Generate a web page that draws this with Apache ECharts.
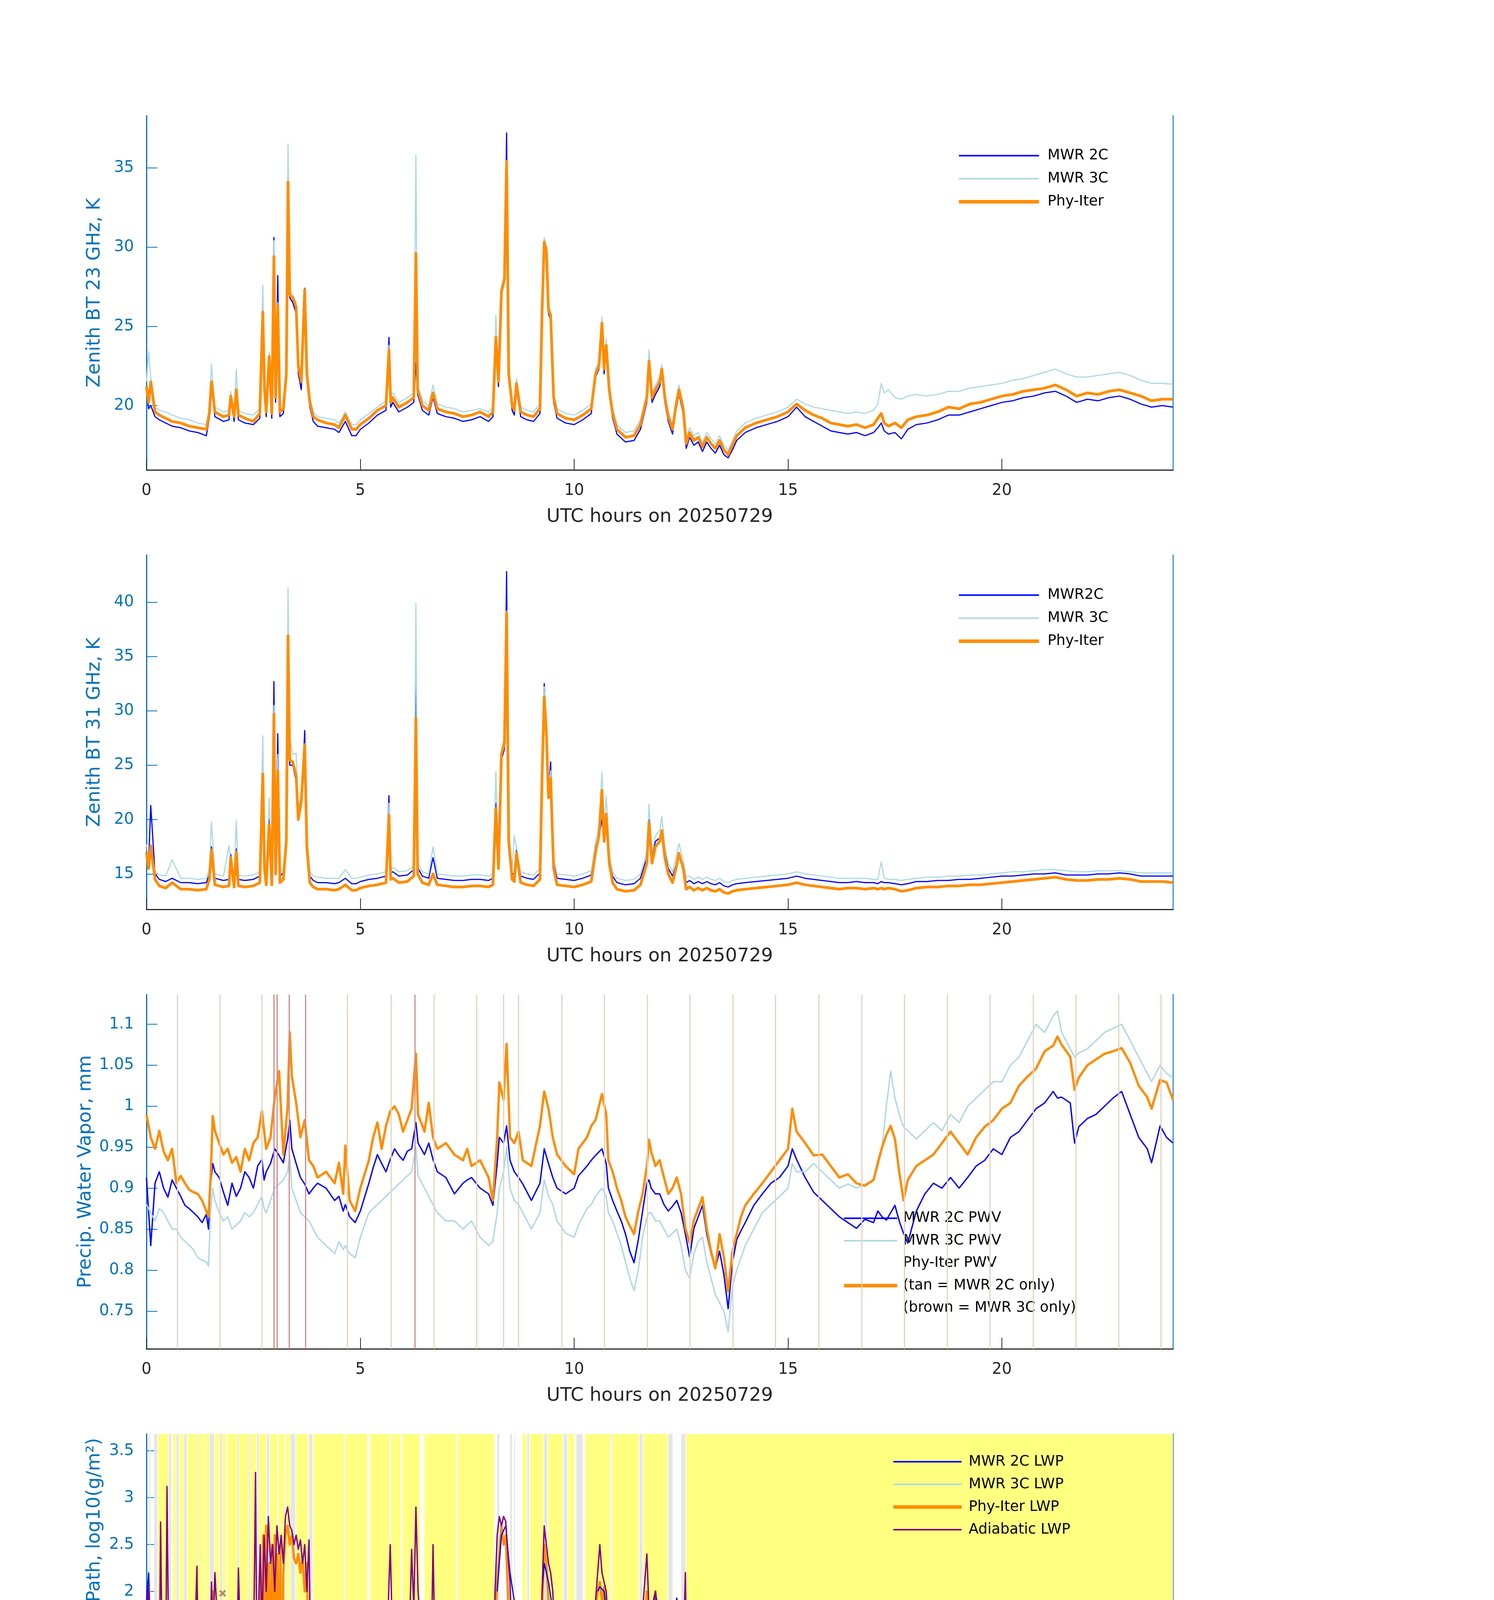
<!DOCTYPE html>
<html><head><meta charset="utf-8">
<script src="https://cdn.jsdelivr.net/npm/echarts@6/dist/echarts.min.js"></script>
<style>html,body{margin:0;padding:0;background:#fff}#c{width:3825px;height:6000px}</style>
</head><body><div id="c"></div>
<script>
// ---------------- DATA ----------------
const hoursBT = [
 0,0.05,0.1,0.2,0.3,0.45,0.6,0.8,1.0,1.2,
 1.4,1.47,1.52,1.6,1.8,1.93,1.97,2.05,2.1,2.15,
 2.3,2.5,2.65,2.72,2.76,2.8,2.87,2.93,2.98,3.02,
 3.07,3.12,3.2,3.27,3.31,3.35,3.42,3.5,3.55,3.62,
 3.7,3.75,3.82,3.9,4.0,4.2,4.4,4.5,4.65,4.8,
 4.9,5.0,5.2,5.4,5.6,5.67,5.71,5.76,5.9,6.1,
 6.25,6.3,6.34,6.45,6.6,6.7,6.8,7.0,7.2,7.4,
 7.6,7.8,8.0,8.1,8.17,8.23,8.3,8.37,8.42,8.47,
 8.55,8.6,8.65,8.75,8.9,9.05,9.2,9.25,9.3,9.35,
 9.4,9.45,9.52,9.6,9.8,10.0,10.2,10.4,10.5,10.58,
 10.65,10.7,10.75,10.82,10.9,11.0,11.2,11.4,11.55,11.7,
 11.75,11.82,11.9,12.0,12.05,12.12,12.2,12.3,12.38,12.45,
 12.55,12.62,12.7,12.8,12.9,13.0,13.1,13.2,13.3,13.4,
 13.5,13.6,13.7,13.8,14.0,14.25,14.5,14.75,15.0,15.2,
 15.4,15.6,15.8,16.0,16.2,16.4,16.6,16.8,17.0,17.1,
 17.18,17.25,17.35,17.5,17.65,17.8,18.0,18.25,18.5,18.75,
 19.0,19.25,19.5,19.75,20.0,20.25,20.5,20.75,21.0,21.25,
 21.5,21.75,22.0,22.25,22.5,22.75,23.0,23.25,23.5,23.75,
 24.0];
const bt23_2C = [
 21.0,19.8,20.0,19.3,19.1,18.9,18.7,18.6,18.4,18.3,
 18.1,19.2,21.2,19.3,19.0,19.1,20.4,19.0,20.8,19.1,
 18.9,18.8,19.2,25.5,20.8,19.3,22.5,19.2,30.6,20.2,
 28.2,19.3,19.5,21.8,28.8,26.8,26.5,25.8,22.0,21.0,
 27.4,21.6,19.9,19.0,18.7,18.6,18.5,18.3,19.0,18.1,
 18.1,18.5,18.9,19.4,19.7,24.3,19.9,20.2,19.6,19.9,
 20.2,22.7,20.7,19.7,19.4,20.5,19.5,19.3,19.2,19.0,
 19.1,19.3,19.0,19.3,24.0,21.2,27.0,27.8,37.2,21.7,
 19.7,19.4,21.0,19.3,19.1,19.0,19.5,25.8,30.5,29.6,
 25.8,25.4,20.2,19.2,18.9,18.8,19.1,19.5,21.8,22.3,
 24.9,22.0,23.5,20.7,19.2,18.2,17.7,17.8,18.5,20.2,
 22.5,20.2,20.7,21.2,22.0,20.2,19.0,18.2,19.7,20.7,
 19.5,17.3,18.0,17.5,17.7,17.1,17.7,17.3,17.0,17.5,
 16.9,16.7,17.2,17.8,18.3,18.6,18.8,19.0,19.3,19.9,
 19.3,19.0,18.7,18.4,18.3,18.2,18.3,18.1,18.3,18.6,
 18.9,18.4,18.2,18.3,17.9,18.5,18.8,18.9,19.1,19.4,
 19.4,19.6,19.8,20.0,20.2,20.3,20.5,20.6,20.8,20.9,
 20.6,20.2,20.4,20.3,20.5,20.6,20.4,20.1,19.9,20.0,
 19.9];
const bt23_3C = [
 21.5,23.4,21.8,19.9,19.7,19.6,19.4,19.2,19.1,18.9,
 18.8,19.8,22.6,19.9,19.6,19.7,20.9,19.6,22.3,19.7,
 19.5,19.4,19.8,27.6,21.3,19.9,23.4,19.8,30.4,20.8,
 26.5,19.9,20.1,22.3,36.5,27.3,27.0,26.5,22.8,21.8,
 27.0,22.3,20.5,19.6,19.3,19.2,19.1,18.9,19.6,18.8,
 18.8,19.1,19.5,19.9,20.3,23.8,20.5,20.8,20.2,20.5,
 20.8,35.8,21.3,20.3,20.0,21.3,20.1,19.9,19.8,19.6,
 19.7,19.8,19.6,19.9,25.7,21.8,27.5,28.2,35.0,22.3,
 20.3,20.0,21.7,19.9,19.7,19.6,20.1,26.3,30.6,30.0,
 26.2,26.0,20.8,19.8,19.5,19.4,19.7,20.1,22.3,22.8,
 25.6,22.6,24.2,21.3,19.8,18.8,18.3,18.4,19.1,20.8,
 23.5,20.8,21.3,21.8,22.6,20.8,19.6,18.8,20.3,21.3,
 20.1,17.9,18.6,18.1,18.3,17.7,18.3,17.9,17.6,18.1,
 17.5,17.2,17.8,18.4,18.9,19.2,19.4,19.6,19.9,20.4,
 20.1,19.9,19.8,19.7,19.6,19.5,19.6,19.5,19.7,20.1,
 21.4,20.8,21.0,20.5,20.4,20.6,20.7,20.6,20.7,20.9,
 20.9,21.1,21.2,21.3,21.4,21.6,21.7,21.9,22.1,22.3,
 22.0,21.8,21.8,21.9,22.0,22.1,21.9,21.6,21.4,21.4,
 21.35];
const bt23_phy = [
 21.2,20.2,21.5,19.6,19.4,19.2,19.0,18.9,18.7,18.6,
 18.5,19.5,21.5,19.6,19.3,19.4,20.6,19.3,21.0,19.4,
 19.2,19.0,19.5,25.9,21.0,19.6,23.1,19.5,29.4,20.5,
 26.3,19.6,19.8,22.0,34.1,27.0,26.8,26.2,22.5,21.5,
 27.3,22.0,20.2,19.3,19.1,18.9,18.8,18.6,19.4,18.5,
 18.5,18.8,19.2,19.7,20.0,23.5,20.2,20.5,19.9,20.2,
 20.5,29.6,21.0,20.0,19.7,20.8,19.8,19.6,19.5,19.3,
 19.4,19.6,19.3,19.6,24.3,21.5,27.2,28.0,35.4,22.0,
 20.0,19.7,21.4,19.6,19.4,19.3,19.8,26.0,30.3,29.8,
 26.0,25.7,20.5,19.5,19.2,19.1,19.4,19.8,22.0,22.5,
 25.2,22.3,23.8,21.0,19.5,18.5,18.0,18.1,18.8,20.5,
 22.8,20.5,21.0,21.5,22.3,20.5,19.3,18.5,20.0,21.0,
 19.8,17.6,18.3,17.8,18.0,17.4,18.0,17.6,17.3,17.8,
 17.2,16.9,17.5,18.1,18.6,18.9,19.1,19.3,19.6,20.1,
 19.7,19.4,19.2,18.9,18.8,18.7,18.8,18.6,18.8,19.2,
 19.5,18.9,18.7,18.9,18.6,19.1,19.3,19.4,19.6,19.9,
 19.8,20.1,20.2,20.4,20.6,20.7,20.9,21.0,21.1,21.3,
 21.0,20.6,20.8,20.7,20.9,21.0,20.8,20.6,20.3,20.4,
 20.4];
const bt31_2C = [
 17.5,16.0,21.3,15.0,14.5,14.3,14.6,14.2,14.2,14.1,
 14.2,15.0,17.5,14.6,14.4,14.5,16.8,14.4,17.3,14.5,
 14.4,14.5,14.8,24.0,16.0,14.6,20.0,14.6,32.7,15.6,
 27.9,14.8,15.1,18.5,29.9,25.0,25.0,23.5,20.5,21.2,
 28.2,17.8,14.8,14.4,14.2,14.2,14.1,14.2,14.6,14.1,
 14.1,14.3,14.5,14.6,14.8,22.2,15.1,15.2,14.8,14.9,
 15.4,32.7,15.6,14.8,14.6,16.5,14.6,14.5,14.4,14.4,
 14.5,14.5,14.4,14.6,21.5,16.0,25.5,26.5,42.8,18.5,
 15.1,14.9,17.2,14.8,14.6,14.5,15.1,24.5,32.5,28.5,
 22.5,25.3,16.0,14.6,14.5,14.4,14.6,14.9,17.5,18.5,
 20.0,18.0,19.5,16.3,14.8,14.2,14.0,14.1,14.6,16.5,
 20.0,16.5,18.0,18.3,19.0,17.0,15.5,14.8,15.8,16.8,
 15.8,14.2,14.4,14.1,14.3,14.1,14.3,14.1,14.0,14.2,
 13.9,13.8,14.0,14.1,14.2,14.3,14.4,14.5,14.6,14.8,
 14.6,14.5,14.4,14.3,14.2,14.2,14.3,14.2,14.2,14.1,
 14.3,14.2,14.2,14.1,14.0,14.1,14.3,14.3,14.4,14.4,
 14.5,14.5,14.6,14.7,14.8,14.8,14.9,15.0,15.0,15.1,
 14.9,14.9,14.9,15.0,15.0,15.1,15.0,14.8,14.8,14.8,
 14.8];
const bt31_3C = [
 17.7,16.2,17.5,15.3,14.9,14.8,16.3,14.6,14.6,14.5,
 14.6,15.5,19.8,15.0,14.8,17.6,16.0,14.8,19.9,14.9,
 14.8,14.9,15.2,27.7,16.3,15.0,22.0,15.0,30.5,16.0,
 26.0,15.2,15.5,19.0,41.3,27.5,26.0,26.1,21.0,22.3,
 26.5,18.3,15.2,14.8,14.7,14.6,14.6,14.6,15.4,14.6,
 14.6,14.7,14.9,15.0,15.2,21.5,15.5,15.6,15.2,15.3,
 15.7,39.9,16.0,15.2,15.0,17.5,15.0,14.9,14.8,14.8,
 14.9,14.9,14.8,15.0,24.4,16.4,26.5,27.5,39.2,19.0,
 15.5,18.5,17.5,15.2,15.0,14.9,15.5,25.0,32.2,29.0,
 23.0,24.5,16.5,15.0,14.9,14.8,15.0,15.3,18.0,19.5,
 24.4,18.8,22.2,16.8,15.2,14.6,14.4,14.5,15.0,17.0,
 21.4,17.0,18.5,19.0,20.3,17.5,16.0,15.2,16.5,17.8,
 16.3,14.7,14.8,14.5,14.7,14.5,14.7,14.5,14.4,14.6,
 14.3,14.2,14.4,14.5,14.6,14.7,14.8,14.9,15.0,15.2,
 15.0,14.9,14.8,14.7,14.6,14.6,14.6,14.6,14.5,14.5,
 16.1,14.6,14.5,14.5,14.4,14.5,14.6,14.7,14.7,14.8,
 14.8,14.9,14.9,15.0,15.1,15.2,15.2,15.3,15.4,15.4,
 15.3,15.2,15.2,15.3,15.3,15.3,15.2,15.1,15.1,15.1,
 15.1];
const bt31_phy = [
 17.0,15.5,17.6,14.5,13.9,13.7,14.2,13.6,13.6,13.5,
 13.6,14.5,17.2,14.0,13.8,13.9,16.5,13.8,17.0,13.9,
 13.8,13.9,14.2,24.2,15.5,14.0,19.5,14.0,29.7,15.0,
 24.5,14.2,14.5,18.0,36.9,25.5,25.3,24.0,20.0,21.7,
 26.9,17.5,14.2,13.8,13.6,13.6,13.5,13.6,14.0,13.5,
 13.5,13.7,13.9,14.0,14.2,20.4,14.5,14.6,14.2,14.3,
 14.8,29.3,15.0,14.2,14.0,15.0,14.0,13.9,13.8,13.8,
 13.9,13.9,13.8,14.0,21.0,15.5,26.0,27.0,39.0,18.0,
 14.5,14.3,16.9,14.2,14.0,13.9,14.5,24.0,31.3,28.0,
 22.0,23.8,15.5,14.0,13.9,13.8,14.0,14.3,17.0,18.5,
 22.7,18.0,20.5,16.0,14.2,13.6,13.4,13.5,14.0,16.0,
 19.7,16.0,17.5,18.0,19.0,16.5,15.0,14.2,15.5,16.9,
 15.5,13.6,13.8,13.5,13.7,13.5,13.7,13.5,13.4,13.6,
 13.3,13.2,13.4,13.5,13.6,13.7,13.8,13.9,14.0,14.2,
 14.0,13.9,13.8,13.7,13.6,13.7,13.7,13.6,13.7,13.6,
 13.7,13.6,13.7,13.6,13.4,13.5,13.7,13.8,13.8,13.9,
 13.9,14.0,14.0,14.1,14.2,14.3,14.4,14.5,14.6,14.7,
 14.5,14.4,14.4,14.5,14.5,14.6,14.5,14.3,14.3,14.3,
 14.2];
const hoursPWV = [
 0,0.1,0.2,0.3,0.4,0.5,0.6,0.7,0.8,0.9,
 1.0,1.1,1.2,1.3,1.4,1.45,1.5,1.55,1.6,1.7,
 1.8,1.9,2.0,2.1,2.2,2.3,2.4,2.5,2.6,2.7,
 2.75,2.8,2.9,3.0,3.1,3.2,3.3,3.35,3.4,3.5,
 3.6,3.7,3.8,3.9,4.0,4.2,4.4,4.5,4.6,4.65,
 4.75,4.88,5.0,5.2,5.3,5.4,5.5,5.6,5.7,5.8,
 5.9,6.0,6.1,6.2,6.3,6.35,6.5,6.6,6.7,6.8,
 7.0,7.2,7.4,7.5,7.6,7.8,8.0,8.1,8.2,8.25,
 8.35,8.42,8.5,8.6,8.7,8.8,9.0,9.2,9.3,9.4,
 9.5,9.6,9.8,10.0,10.1,10.3,10.4,10.5,10.65,10.75,
 10.8,10.9,11.0,11.1,11.2,11.3,11.4,11.5,11.6,11.7,
 11.75,11.8,11.9,12.0,12.1,12.2,12.3,12.4,12.5,12.6,
 12.7,12.8,12.9,13.0,13.1,13.2,13.3,13.4,13.5,13.6,
 13.7,13.8,13.9,14.0,14.2,14.4,14.6,14.8,15.0,15.1,
 15.2,15.4,15.6,15.8,16.0,16.2,16.4,16.6,16.8,17.0,
 17.1,17.2,17.3,17.4,17.5,17.6,17.7,17.8,18.0,18.2,
 18.4,18.6,18.8,19.0,19.2,19.4,19.6,19.8,20.0,20.2,
 20.4,20.6,20.8,21.0,21.2,21.3,21.4,21.6,21.7,21.8,
 22.0,22.2,22.4,22.6,22.8,23.0,23.2,23.4,23.5,23.7,
 23.85,24.0];
const pwv_2C = [
 0.913,0.83,0.906,0.92,0.9,0.889,0.91,0.9,0.89,0.879,
 0.875,0.87,0.865,0.858,0.868,0.85,0.906,0.93,0.92,0.913,
 0.895,0.879,0.906,0.89,0.9,0.92,0.913,0.9,0.927,0.935,
 0.91,0.92,0.93,0.948,0.94,0.931,0.96,0.983,0.948,0.93,
 0.913,0.905,0.893,0.9,0.906,0.9,0.885,0.89,0.872,0.88,
 0.865,0.858,0.872,0.906,0.925,0.941,0.93,0.92,0.935,0.948,
 0.94,0.934,0.945,0.948,0.98,0.955,0.941,0.955,0.935,0.92,
 0.913,0.893,0.906,0.91,0.913,0.9,0.893,0.879,0.93,0.962,
 0.955,0.976,0.934,0.92,0.913,0.905,0.885,0.906,0.948,0.93,
 0.913,0.9,0.893,0.9,0.915,0.927,0.934,0.94,0.948,0.93,
 0.9,0.885,0.872,0.86,0.844,0.823,0.809,0.837,0.872,0.906,
 0.91,0.9,0.893,0.893,0.88,0.872,0.878,0.885,0.87,0.844,
 0.816,0.851,0.865,0.879,0.844,0.82,0.802,0.823,0.795,0.753,
 0.809,0.837,0.848,0.858,0.879,0.893,0.906,0.913,0.927,0.948,
 0.935,0.913,0.895,0.885,0.875,0.865,0.858,0.851,0.862,0.858,
 0.872,0.865,0.861,0.87,0.879,0.86,0.845,0.833,0.872,0.893,
 0.906,0.9,0.913,0.9,0.913,0.927,0.934,0.948,0.941,0.962,
 0.969,0.983,0.997,1.004,1.018,1.01,1.011,1.004,0.955,0.975,
 0.985,0.99,1.0,1.01,1.018,0.99,0.962,0.948,0.931,0.976,
 0.962,0.955];
const pwv_3C = [
 0.88,0.87,0.86,0.875,0.87,0.86,0.85,0.85,0.84,0.835,
 0.83,0.825,0.815,0.812,0.81,0.805,0.87,0.9,0.885,0.87,
 0.86,0.865,0.85,0.855,0.86,0.87,0.865,0.87,0.88,0.89,
 0.875,0.87,0.885,0.9,0.905,0.91,0.92,0.94,0.9,0.885,
 0.87,0.865,0.86,0.85,0.84,0.83,0.82,0.835,0.825,0.83,
 0.82,0.815,0.84,0.87,0.875,0.88,0.885,0.89,0.895,0.9,
 0.905,0.91,0.915,0.92,0.95,0.915,0.9,0.89,0.88,0.87,
 0.86,0.86,0.85,0.855,0.86,0.84,0.83,0.835,0.87,0.9,
 0.92,0.95,0.9,0.885,0.88,0.87,0.85,0.87,0.91,0.89,
 0.88,0.86,0.845,0.84,0.855,0.875,0.88,0.89,0.9,0.89,
 0.87,0.86,0.845,0.83,0.81,0.79,0.775,0.8,0.84,0.865,
 0.87,0.87,0.86,0.86,0.85,0.84,0.845,0.85,0.83,0.8,
 0.79,0.82,0.835,0.84,0.81,0.79,0.77,0.76,0.75,0.725,
 0.78,0.8,0.815,0.83,0.85,0.87,0.88,0.89,0.9,0.93,
 0.92,0.92,0.93,0.92,0.91,0.9,0.905,0.9,0.905,0.91,
 0.925,0.95,1.0,1.043,1.01,0.99,0.975,0.97,0.96,0.97,
 0.98,0.97,0.99,0.98,1.0,1.01,1.02,1.03,1.03,1.05,
 1.06,1.08,1.1,1.09,1.11,1.116,1.09,1.07,1.06,1.065,
 1.07,1.08,1.09,1.095,1.1,1.08,1.06,1.04,1.03,1.05,
 1.04,1.035];
const pwv_phy = [
 0.99,0.962,0.948,0.97,0.945,0.934,0.948,0.906,0.915,0.906,
 0.898,0.895,0.893,0.885,0.872,0.865,0.913,0.988,0.97,0.955,
 0.941,0.948,0.931,0.938,0.92,0.948,0.934,0.955,0.962,0.994,
 0.97,0.948,0.962,1.011,1.043,0.941,1.0,1.09,1.036,1.004,
 0.962,0.983,0.934,0.927,0.913,0.92,0.906,0.931,0.893,0.952,
 0.885,0.872,0.9,0.934,0.962,0.98,0.948,0.976,0.994,1.0,
 0.99,0.969,0.983,0.997,1.064,0.99,0.969,1.004,0.962,0.948,
 0.955,0.941,0.934,0.948,0.927,0.934,0.913,0.885,0.962,1.029,
 1.008,1.076,0.962,0.955,0.969,0.934,0.927,0.976,1.018,0.997,
 0.962,0.941,0.927,0.917,0.948,0.962,0.976,0.983,1.015,0.99,
 0.934,0.92,0.9,0.885,0.865,0.854,0.844,0.872,0.893,0.927,
 0.959,0.945,0.927,0.934,0.913,0.893,0.9,0.913,0.893,0.851,
 0.833,0.861,0.875,0.889,0.851,0.823,0.802,0.844,0.816,0.774,
 0.823,0.844,0.865,0.879,0.893,0.906,0.92,0.934,0.948,0.997,
 0.969,0.955,0.94,0.941,0.927,0.913,0.917,0.906,0.903,0.91,
 0.931,0.95,0.965,0.976,0.96,0.92,0.885,0.91,0.927,0.934,
 0.941,0.955,0.969,0.955,0.941,0.962,0.975,0.983,0.997,1.004,
 1.025,1.036,1.046,1.067,1.074,1.085,1.075,1.06,1.02,1.035,
 1.05,1.057,1.064,1.067,1.071,1.053,1.025,1.011,0.997,1.032,
 1.029,1.008];
const tanHours = [0.72,1.72,2.7,4.7,5.72,6.72,7.72,8.35,8.7,9.71,10.71,11.71,12.71,13.71,14.71,15.72,16.72,17.72,18.72,19.72,20.73,21.73,22.73,23.72];
const brownHours = [2.98,3.05,3.34,3.72,6.28];

const clearSpans = [[0.27,0.51],[0.62,0.69],[0.78,0.87],[0.96,1.16],[1.2,1.34],[1.36,1.47],[1.6,1.71],[1.78,1.85],[1.89,2.11],[2.16,2.38],[2.43,2.56],[2.63,2.8],[2.89,3.05],[3.09,3.23],[3.27,3.36],[3.5,3.78],[3.9,4.61],[4.65,5.16],[5.23,5.68],[5.72,5.94],[5.99,6.39],[6.5,7.24],[7.28,8.13],[8.79,8.88],[8.97,9.28],[9.39,9.73],[9.86,10.0],[10.26,10.84],[10.89,11.51],[11.62,12.18],[12.62,24]];
const missingSpans = [[0.07,0.09],[0.18,0.25],[0.52,0.58],[0.7,0.76],[0.88,0.94],[1.17,1.19],[1.48,1.58],[1.72,1.77],[2.12,2.15],[2.39,2.42],[2.58,2.62],[2.82,2.87],[3.37,3.48],[3.8,3.88],[8.2,8.25],[8.5,8.55],[8.6,8.62],[8.9,8.95],[9.3,9.37],[9.75,9.84],[10.05,10.2],[10.86,10.88],[11.53,11.6],[12.2,12.3],[12.5,12.6]];
const hoursLWPc = [0,0.5,1,1.5,2,2.5,3,3.5,4,4.5,5,5.5,6,6.5,7,7.5,8,8.5,9,9.5,10,10.5,11,11.5,12,12.5,13,13.5,14,14.5,15,15.5,16,16.5,17,17.5,18,18.5,19,19.5,20,20.5,21,21.5,22,22.5,23,23.5,24];
const lwp2C_clear = [1.38,1.38,1.4,1.38,1.4,1.4,1.42,1.4,1.33,1.36,1.38,1.4,1.42,1.42,1.44,1.45,1.45,1.45,1.46,1.45,1.48,1.47,1.38,1.36,1.4,1.42,1.45,1.45,1.44,1.45,1.45,1.42,1.4,1.38,1.36,1.33,1.34,1.38,1.38,1.39,1.39,1.4,1.42,1.41,1.38,1.36,1.35,1.34,1.36];
const hoursLWP3C = [0,1,2,3,4,5,6,7,8,9,10,11,11.5,12,12.5,13,13.5,14,14.5,15,15.5,15.8,16.0,16.3,16.6,16.9,17.1,17.2,17.25,17.3,17.9,18.2,18.6,19.0,19.4,19.8,20.2,20.6,21.0,21.4,21.8,22.2,22.6,23.0,23.4,23.8,24];
const lwp3C_low = [1.17,1.17,1.15,1.17,1.12,1.12,1.15,1.18,1.17,1.18, 1.17,1.12,1.05,1.09,1.12,1.07,1.02,0.97,1.01,1.12, 1.17,1.08,0.85,0,0,0,0,0.2,0,0, 0,0,0,0,0,0,0.05,0.15,0.2,0.25, 0.3,0.3,0.35,0.35,0.4,0.45,0.45];
const lwp3C_high = [1.23,1.23,1.22,1.24,1.19,1.19,1.22,1.25,1.24,1.25, 1.24,1.19,1.12,1.16,1.19,1.14,1.09,1.04,1.08,1.19, 1.24,1.15,0.95,0.6,0.65,0.7,0.55,1.08,0.05,0, 0,0.45,0.5,0.5,0.55,0.6,0.65,0.85,0.85,0.8, 0.85,0.85,0.9,0.85,0.85,0.8,0.65];
const lwpPhy = [
 [0,1.85],[0.05,1.6],[0.1,1.2],[0.15,0.6],[0.2,-0.3],null,
 [0.5,-0.3],[0.55,0.3],[0.58,-0.3],null,
 [1.45,-0.3],[1.5,1.9],[1.53,0.3],[1.56,2.0],[1.6,-0.3],[1.63,1.5],[1.66,-0.3],[1.7,1.0],[1.73,-0.3],[1.76,1.7],[1.8,0.2],[1.85,-0.3],null,
 [1.95,-0.3],[1.98,1.3],[2.02,-0.3],[2.06,1.4],[2.1,0.2],[2.15,-0.3],null,
 [2.35,-0.3],[2.4,0.8],[2.45,-0.3],null,
 [2.62,-0.3],[2.66,2.2],[2.7,0.5],[2.73,2.6],[2.76,1.0],[2.8,2.7],[2.83,0.3],[2.86,2.3],[2.9,0.6],[2.93,2.5],[2.96,1.2],[3.0,2.6],[3.03,0.5],[3.06,2.4],[3.1,1.0],[3.13,2.5],[3.16,0.2],[3.2,2.2],[3.25,2.6],[3.3,2.7],[3.35,2.5],[3.4,2.6],[3.45,2.35],[3.5,2.3],[3.55,2.4],[3.6,2.2],[3.65,2.35],[3.7,2.0],[3.75,2.3],[3.8,1.0],[3.85,-0.3],null,
 [5.6,-0.3],[5.65,1.0],[5.7,0.3],[5.75,-0.3],null,
 [6.05,-0.3],[6.1,0.8],[6.15,-0.3],[6.2,1.6],[6.25,0.2],[6.3,1.9],[6.35,0.5],[6.4,1.8],[6.45,-0.3],[6.5,1.2],[6.55,0.3],[6.6,1.6],[6.65,-0.3],[6.7,0.8],[6.75,-0.3],null,
 [8.1,0.4],[8.15,1.6],[8.2,2.1],[8.25,2.4],[8.3,2.7],[8.35,2.5],[8.4,2.6],[8.45,2.0],[8.5,1.2],[8.55,0.4],[8.6,1.6],[8.65,1.4],[8.7,0.6],[8.75,0.3],[8.8,-0.3],null,
 [9.2,-0.3],[9.25,1.8],[9.3,2.5],[9.35,2.3],[9.4,1.9],[9.45,1.5],[9.5,1.0],[9.55,0.5],[9.6,-0.3],[9.7,0.3],[9.75,-0.3],null,
 [10.4,-0.3],[10.45,1.4],[10.5,1.8],[10.55,2.0],[10.6,2.1],[10.65,1.9],[10.7,2.05],[10.75,1.6],[10.8,0.8],[10.85,-0.3],null,
 [11.5,-0.3],[11.55,0.4],[11.6,1.5],[11.65,1.7],[11.7,2.0],[11.75,1.6],[11.8,1.8],[11.85,1.2],[11.9,2.0],[11.95,1.5],[12.0,1.2],[12.05,0.8],[12.1,0.5],[12.15,1.2],[12.2,1.6],[12.25,1.3],[12.3,1.8],[12.35,1.5],[12.4,1.75],[12.45,1.4],[12.5,0.8],[12.55,1.2],[12.6,0.6],[12.65,-0.3]];
const lwp2C_cloud = [
 [0,1.9],[0.05,2.2],[0.1,1.5],[0.2,1.4],null,
 [8.2,2.0],[8.3,2.6],[8.4,2.7],[8.5,2.2],[8.6,1.9],[8.7,1.5],null,
 [9.25,2.0],[9.3,2.3],[9.4,2.1],[9.5,1.8],null,
 [10.55,2.0],[10.6,2.05],[10.7,2.0],[10.8,1.6],null,
 [11.6,1.6],[11.7,1.9],[11.8,1.7],[11.9,2.0],[12.0,1.7],[12.1,1.2],[12.2,1.5],[12.3,1.7],[12.4,1.93],[12.5,1.5],[12.6,1.8],[12.65,1.4]];
const lwpAdiabatic = [
 [0.0,1.7],[0.05,2.05],[0.12,1.3],[0.2,1.1],[0.3,1.0],[0.33,2.74],[0.37,1.2],[0.45,1.1],[0.48,3.12],[0.52,1.3],[0.6,1.0],[0.7,1.5],[0.8,1.2],[0.9,1.0],[1.0,1.05],[1.1,1.0],[1.18,2.27],[1.22,1.0],[1.3,0.9],null,
 [1.48,1.0],[1.52,2.1],[1.56,1.6],[1.6,2.2],[1.65,1.75],[1.7,1.2],[1.75,1.4],[1.8,1.0],[1.9,1.0],[1.95,1.3],[2.0,1.5],[2.05,1.2],[2.1,1.0],[2.15,2.25],[2.2,1.4],[2.3,1.1],[2.4,1.5],[2.5,1.2],[2.55,3.27],[2.58,1.3],[2.62,1.8],[2.66,2.5],[2.7,1.6],[2.75,2.6],[2.8,2.0],[2.85,2.8],[2.9,2.3],[2.95,2.5],[3.0,2.0],[3.05,2.7],[3.1,2.4],[3.15,2.6],[3.2,2.3],[3.25,2.8],[3.3,2.9],[3.35,2.7],[3.4,2.65],[3.45,2.5],[3.5,2.6],[3.55,2.45],[3.6,2.55],[3.65,2.3],[3.7,2.5],[3.75,2.0],[3.8,2.55],[3.85,0.9],null,
 [5.6,1.0],[5.65,1.8],[5.7,2.5],[5.75,1.5],[5.8,1.0],null,
 [6.1,1.0],[6.15,1.6],[6.2,2.45],[6.25,1.8],[6.3,2.9],[6.35,2.0],[6.4,1.7],[6.45,1.2],[6.5,1.4],[6.55,1.0],[6.6,1.3],[6.65,1.0],[6.7,2.5],[6.75,1.2],[6.8,0.9],null,
 [8.1,1.0],[8.15,2.0],[8.2,2.6],[8.25,2.8],[8.3,2.7],[8.35,2.8],[8.4,2.75],[8.45,2.4],[8.5,2.1],[8.55,1.2],[8.6,1.5],[8.65,1.9],[8.7,1.3],[8.75,1.0],[8.8,0.8],null,
 [9.2,1.0],[9.25,2.0],[9.3,2.7],[9.35,2.5],[9.4,2.3],[9.45,2.2],[9.5,2.0],[9.55,1.5],[9.6,1.0],[9.7,0.9],null,
 [10.4,1.0],[10.45,1.6],[10.5,1.9],[10.55,2.2],[10.6,2.5],[10.65,2.2],[10.7,2.1],[10.75,2.0],[10.8,1.6],[10.85,1.0],[10.9,0.9],null,
 [11.5,0.8],[11.55,1.2],[11.6,1.8],[11.65,2.1],[11.7,2.4],[11.75,1.8],[11.8,1.5],[11.85,1.9],[11.9,2.0],[11.95,1.7],[12.0,1.8],[12.05,1.3],[12.1,1.0],[12.15,0.9],[12.2,1.5],[12.25,1.7],[12.3,1.2],[12.35,1.6],[12.4,1.6],[12.45,1.2],[12.5,1.1],[12.55,1.3],[12.6,2.2],[12.65,0.5]];
const xMarksBrown = [[0.78,1.82],[0.96,1.05],[1.05,1.05],[1.78,1.98],[2.27,1.86],[5.28,1.1],[5.45,1.12],[5.79,1.11],[5.94,1.1],[6.39,1.2],[6.52,1.11],[8.01,1.06],[8.06,1.09],[10.17,1.04]];
const xMarksGold = [[1.09,0.45],[1.2,0.05],[2.27,0.21],[5.83,0.34],[5.94,0.05],[6.5,0.24],[8.01,0.43],[8.06,0.28]];

const flag0Runs = [[0,0.2],[0.6,0.6],[0.93,0.93],[1.27,1.27],[1.45,1.76],[1.87,2.2],[2.6,3.9],[4.65,4.65],[5.68,5.83],[6.05,6.4],[6.45,6.83],[8.13,8.84],[9.22,9.73],[10.4,10.89],[11.62,12.62]];
const flag3Runs = [[0.27,0.27],[0.49,0.49],[0.6,0.6],[0.7,0.76],[1.16,1.16],[1.71,1.8],[1.95,2.1],[2.32,2.32],[2.6,2.6],[3.05,3.05],[3.23,3.23],[3.83,3.83],[5.61,5.68],[5.94,6.1],[6.61,6.61],[6.72,6.72],[8.01,8.01],[9.13,9.13],[9.68,9.68],[10.35,10.35],[10.91,10.91],[11.58,11.58],[12.62,12.62]];
const flag4Runs = [[0.04,0.08],[0.2,0.27],[0.56,0.56],[0.89,0.95],[1.02,1.1],[1.16,1.2],[1.6,1.6],[1.87,1.87],[1.98,2.0],[2.1,2.23],[2.49,2.49],[2.6,2.6],[3.12,3.12],[3.6,3.6],[3.87,3.87],[4.65,4.65],[5.28,5.28],[5.45,5.45],[5.83,5.83],[5.99,5.99],[6.57,6.57],[6.68,6.68],[7.21,7.21],[8.06,8.06],[8.62,8.62],[8.8,8.84],[8.93,8.97],[9.08,9.08],[9.22,9.22],[9.66,9.66],[10.17,10.3],[10.89,10.89],[11.62,11.62],[12.22,12.22],[12.58,12.58]];
const flag5Runs = [[0.27,0.49],[0.67,1.16],[1.27,1.45],[1.76,1.76],[2.27,2.56],[2.83,2.83],[3.16,3.16],[3.87,5.61],[5.72,6.1],[6.32,6.57],[6.79,7.17],[7.24,8.13],[8.88,9.17],[9.68,10.28],[10.91,11.55],[12.62,24]];
const flag6Runs = [[5.68,5.68],[8.42,8.42]];

const ticksBT23 = [20,25,30,35];
const ticksBT31 = [15,20,25,30,35,40];
const ticksPWV = [0.75,0.8,0.85,0.9,0.95,1,1.05,1.1];
const ticksLWP = [0,0.5,1,1.5,2,2.5,3,3.5];
const ticksFlag = [0,2,4,6,8,10];

// ---------------- STYLE ----------------
const F = 'DejaVu Sans';
const BLUE='#0000FF', LBLUE='#ADD8E6', ORANGE='#FF8C00', PURPLE='#800080';
const AXB='#0072BD', AXR='#3C8FD6', DARK='#262626';
const TAN='#E6D3BE', BROWN='#D08A8A';
const YELLOW='#FFFF80', MISSING='#E6E6E6', GRAYLWP='#868690', GREEN3C='#D9E77E';
const TOP=[296,1421,2546,3671,4796];

function pairs(t,v){return t.map((x,i)=>[x,v[i]]);}
function gaps(list){return list.map(p=>p==null?['-','-']:p);}

const grids = TOP.map(t=>({left:375, top:t, width:2628, height:907, containLabel:false}));
const xAxes = TOP.map((t,i)=>({gridIndex:i,type:'value',min:0,max:24,interval:5,
  axisLine:{show:true,onZero:false,lineStyle:{color:DARK,width:3}},
  axisTick:{show:true,inside:true,length:28,lineStyle:{color:DARK,width:2}},
  axisLabel:{fontSize:40,color:DARK,margin:34,fontFamily:F,showMaxLabel:false},
  splitLine:{show:false},
  name:'UTC hours on 20250729',nameLocation:'middle',nameGap:97,
  nameTextStyle:{fontSize:48,color:DARK,fontFamily:F}}));
function yAx(i,min,max,vals,name){return {gridIndex:i,type:'value',min:min,max:max,position:'left',
  axisLine:{show:true,onZero:false,lineStyle:{color:AXB,width:3}},
  axisTick:{show:true,inside:true,length:28,customValues:vals,lineStyle:{color:AXB,width:2}},
  axisLabel:{customValues:vals,fontSize:40,color:AXB,margin:32,fontFamily:F},
  splitLine:{show:false},
  name:name,nameLocation:'middle',nameGap:108,
  nameTextStyle:{fontSize:48,color:AXB,fontFamily:F}};}
function yRight(i,min,max){return {gridIndex:i,type:'value',min:min,max:max,position:'right',
  axisLine:{show:true,onZero:false,lineStyle:{color:AXR,width:3}},axisTick:{show:false},axisLabel:{show:false},splitLine:{show:false}};}
const yRanges=[[15.94,38.29],[11.74,44.33],[0.7039,1.1363],[-0.1,3.68],[-0.51,11.53]];
const yAxes=[
 yAx(0,15.94,38.29,ticksBT23,'Zenith BT 23 GHz, K'),
 yAx(1,11.74,44.33,ticksBT31,'Zenith BT 31 GHz, K'),
 yAx(2,0.7039,1.1363,ticksPWV,'Precip. Water Vapor, mm'),
 yAx(3,-0.1,3.68,ticksLWP,'log10 Liquid Water Path, log10(g/m\u00B2)'),
 yAx(4,-0.51,11.53,ticksFlag,'MWR Phy Iter DQ Flag')
].concat(yRanges.map((r,i)=>yRight(i,r[0],r[1])));

function line(name,gi,data,color,width,extra){return Object.assign({type:'line',name:name,xAxisIndex:gi,yAxisIndex:gi,
  data:data,color:color,symbol:'none',showSymbol:false,clip:true,connectNulls:false,
  lineStyle:{color:color,width:width,join:'round'},emphasis:{disabled:true},animation:false},extra||{});}

function band(name,gi,t,lo,hi,color,opacity){
  return {type:'custom',name:name,xAxisIndex:gi,yAxisIndex:gi,clip:true,animation:false,silent:true,color:color,
    data:t.map((x,i)=>[x,lo[i],hi[i]]),encode:{x:0,y:[1,2]},
    renderItem:function(params,api){
      if(params.dataIndexInside!==0)return null;
      const pts=[];
      for(let i=0;i<t.length;i++)pts.push(api.coord([t[i],hi[i]]));
      for(let i=t.length-1;i>=0;i--)pts.push(api.coord([t[i],lo[i]]));
      return {type:'polygon',shape:{points:pts},style:{fill:color,stroke:color,lineWidth:1.5,opacity:opacity}};
    }};}

function path(w,h){return 'path://M0 0H'+w+'V'+h+'H0Z';}
function legend(names,colors,thick,left,top,w,lh,pad,fmt){
  const o={orient:'vertical',left:left,top:top,itemWidth:w,itemHeight:12,itemGap:0,padding:0,selectedMode:false,
   textStyle:{fontFamily:F,fontSize:37,color:'#000',lineHeight:lh,padding:[0,0,0,pad]},
   data:names.map((n,i)=>({name:n,icon:path(w,thick[i]),itemStyle:{color:colors[i],borderWidth:0,opacity:1}}))};
  if(fmt)o.formatter=fmt; return o;}

function runs(gi,list,flag){return {type:'custom',xAxisIndex:gi,yAxisIndex:gi,clip:true,animation:false,silent:true,
  data:list.map(r=>[r[0],r[1],flag]),encode:{x:[0,1],y:2},
  renderItem:function(params,api){const s=api.coord([api.value(0),api.value(2)]);const e=api.coord([api.value(1),api.value(2)]);
    const h=9;return {type:'rect',shape:{x:s[0]-5,y:s[1]-h/2,width:e[0]-s[0]+10,height:h,r:4.5},style:{fill:ORANGE}};}};}

const XPATH='path://M0 2L2 0L5 3L8 0L10 2L7 5L10 8L8 10L5 7L2 10L0 8L3 5Z';

const series=[
 line('MWR 2C',0,pairs(hoursBT,bt23_2C),BLUE,3),
 line('MWR 3C',0,pairs(hoursBT,bt23_3C),LBLUE,3),
 line('Phy-Iter',0,pairs(hoursBT,bt23_phy),ORANGE,7),
 line('MWR2C',1,pairs(hoursBT,bt31_2C),BLUE,3),
 line('MWR 3C ',1,pairs(hoursBT,bt31_3C),LBLUE,3),
 line('Phy-Iter ',1,pairs(hoursBT,bt31_phy),ORANGE,7),
 {type:'line',xAxisIndex:2,yAxisIndex:2,data:[],silent:true,animation:false,z:1,
  markLine:{silent:true,animation:false,symbol:['none','none'],label:{show:false},
   lineStyle:{type:'solid',width:3},
   data:tanHours.map(h=>({xAxis:h,lineStyle:{color:TAN,type:'solid',width:3}}))
     .concat(brownHours.map(h=>({xAxis:h,lineStyle:{color:BROWN,type:'solid',width:3}})))}},
 line('MWR 2C PWV',2,pairs(hoursPWV,pwv_2C),BLUE,3.5),
 line('MWR 3C PWV',2,pairs(hoursPWV,pwv_3C),LBLUE,3.5),
 line('Phy-Iter PWV',2,pairs(hoursPWV,pwv_phy),ORANGE,6),
 {type:'line',xAxisIndex:3,yAxisIndex:3,data:[],silent:true,animation:false,z:0,
  markArea:{silent:true,animation:false,itemStyle:{color:YELLOW,opacity:1},
   data:clearSpans.map(s=>[{xAxis:s[0]},{xAxis:s[1]}])
     .concat(missingSpans.map(s=>[{xAxis:s[0],itemStyle:{color:MISSING}},{xAxis:s[1]}]))}},
 band('MWR 3C LWP',3,hoursLWP3C,lwp3C_low,lwp3C_high,GREEN3C,1),
 line('_lwp2Cclear',3,pairs(hoursLWPc,lwp2C_clear),GRAYLWP,22,{lineStyle:{width:22,color:GRAYLWP,opacity:0.8}}),
 line('Phy-Iter LWP',3,gaps(lwpPhy),ORANGE,6),
 line('MWR 2C LWP',3,gaps(lwp2C_cloud),BLUE,3),
 line('Adiabatic LWP',3,gaps(lwpAdiabatic),PURPLE,3.5),
 {type:'scatter',xAxisIndex:3,yAxisIndex:3,data:xMarksBrown,symbol:XPATH,symbolSize:18,itemStyle:{color:'#B06A50'},animation:false,silent:true},
 {type:'scatter',xAxisIndex:3,yAxisIndex:3,data:xMarksGold,symbol:XPATH,symbolSize:18,itemStyle:{color:'#F2B824'},animation:false,silent:true},
 runs(4,flag0Runs,0),runs(4,flag3Runs,3),runs(4,flag4Runs,4),runs(4,flag5Runs,5),runs(4,flag6Runs,6)
];

const legends=[
 legend(['MWR 2C','MWR 3C','Phy-Iter'],[BLUE,LBLUE,ORANGE],[4,4,9],2455,TOP[0]+73,205,59,17),
 legend(['MWR2C','MWR 3C ','Phy-Iter '],[BLUE,LBLUE,ORANGE],[4,4,9],2455,TOP[1]+73,205,59,17),
 legend(['MWR 2C PWV','MWR 3C PWV','Phy-Iter PWV'],[BLUE,LBLUE,ORANGE],[4,4,9],2161,TOP[2]+544,136,57.5,10,
   function(n){return n==='Phy-Iter PWV'?'Phy-Iter PWV\n(tan = MWR 2C only)\n(brown = MWR 3C only)':n;}),
 legend(['MWR 2C LWP','MWR 3C LWP','Phy-Iter LWP','Adiabatic LWP'],[BLUE,LBLUE,ORANGE,PURPLE],[4,4,9,4],2287,TOP[3]+42,175,58,13)
];

const chart=echarts.init(document.getElementById('c'),null,{renderer:'canvas',width:3825,height:6000});
chart.setOption({animation:false,backgroundColor:'#ffffff',grid:grids,xAxis:xAxes,yAxis:yAxes,legend:legends,series:series});
</script></body></html>
